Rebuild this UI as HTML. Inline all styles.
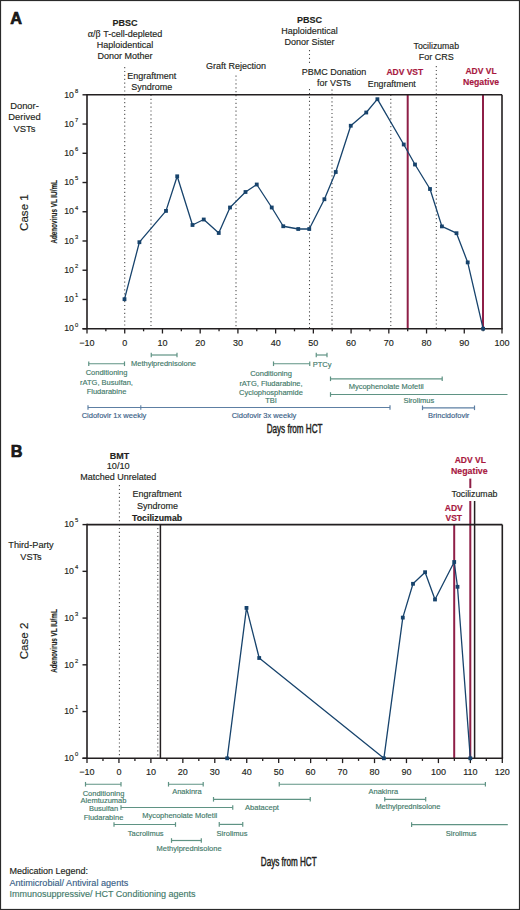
<!DOCTYPE html>
<html><head><meta charset="utf-8"><style>
html,body{margin:0;padding:0;background:#fff;}
body{width:520px;height:910px;overflow:hidden;}
svg{display:block;font-family:"Liberation Sans",sans-serif;}
</style></head><body>
<svg width="520" height="910" viewBox="0 0 520 910">
<rect x="0.5" y="0.5" width="519" height="909" fill="#fff" stroke="#2a2a2a" stroke-width="1.2"/>
<text x="10.2" y="23.8" font-size="16.3" text-anchor="start" font-weight="bold" fill="#231f20" stroke="#000" stroke-width="0.6">A</text>
<text x="125" y="26.3" font-size="9.0" text-anchor="middle" font-weight="bold" fill="#231f20" stroke="#231f20" stroke-width="0.15" >PBSC</text>
<text x="125" y="37" font-size="9.0" text-anchor="middle" font-weight="normal" fill="#231f20" stroke="#231f20" stroke-width="0.15" ><tspan font-family="Liberation Serif" font-size="10">α</tspan>/<tspan font-family="Liberation Serif" font-size="10">β</tspan> T-cell-depleted</text>
<text x="125" y="47.9" font-size="9.0" text-anchor="middle" font-weight="normal" fill="#231f20" stroke="#231f20" stroke-width="0.15" >Haploidentical</text>
<text x="125" y="58.6" font-size="9.0" text-anchor="middle" font-weight="normal" fill="#231f20" stroke="#231f20" stroke-width="0.15" >Donor Mother</text>
<text x="151.8" y="79.1" font-size="9.0" text-anchor="middle" font-weight="normal" fill="#231f20" stroke="#231f20" stroke-width="0.15" >Engraftment</text>
<text x="151.8" y="89.8" font-size="9.0" text-anchor="middle" font-weight="normal" fill="#231f20" stroke="#231f20" stroke-width="0.15" >Syndrome</text>
<text x="236" y="69" font-size="9.0" text-anchor="middle" font-weight="normal" fill="#231f20" stroke="#231f20" stroke-width="0.15" >Graft Rejection</text>
<text x="309.6" y="23" font-size="9.0" text-anchor="middle" font-weight="bold" fill="#231f20" stroke="#231f20" stroke-width="0.15" >PBSC</text>
<text x="309.6" y="34.2" font-size="9.0" text-anchor="middle" font-weight="normal" fill="#231f20" stroke="#231f20" stroke-width="0.15" >Haploidentical</text>
<text x="309.6" y="45" font-size="9.0" text-anchor="middle" font-weight="normal" fill="#231f20" stroke="#231f20" stroke-width="0.15" >Donor Sister</text>
<text x="334" y="74.5" font-size="9.0" text-anchor="middle" font-weight="normal" fill="#231f20" stroke="#231f20" stroke-width="0.15" >PBMC Donation</text>
<text x="334" y="85.5" font-size="9.0" text-anchor="middle" font-weight="normal" fill="#231f20" stroke="#231f20" stroke-width="0.15" >for VSTs</text>
<text x="436.3" y="49.3" font-size="8.7" text-anchor="middle" font-weight="normal" fill="#231f20" stroke="#231f20" stroke-width="0.15" >Tocilizumab</text>
<text x="436.3" y="60" font-size="9.0" text-anchor="middle" font-weight="normal" fill="#231f20" stroke="#231f20" stroke-width="0.15" >For CRS</text>
<text x="391.8" y="87.2" font-size="8.8" text-anchor="middle" font-weight="normal" fill="#231f20" stroke="#231f20" stroke-width="0.15" >Engraftment</text>
<text x="404.8" y="75" font-size="8.5" text-anchor="middle" font-weight="bold" fill="#a8183f" stroke="#a8183f" stroke-width="0.15" >ADV VST</text>
<text x="481" y="73.8" font-size="8.5" text-anchor="middle" font-weight="bold" fill="#a8183f" stroke="#a8183f" stroke-width="0.15" >ADV VL</text>
<text x="481" y="85" font-size="8.7" text-anchor="middle" font-weight="bold" fill="#a8183f" stroke="#a8183f" stroke-width="0.15" >Negative</text>
<text x="24.5" y="108.8" font-size="9.4" text-anchor="middle" font-weight="normal" fill="#231f20" stroke="#231f20" stroke-width="0.15" >Donor-</text>
<text x="24.5" y="120.3" font-size="9.4" text-anchor="middle" font-weight="normal" fill="#231f20" stroke="#231f20" stroke-width="0.15" >Derived</text>
<text x="24.5" y="131.8" font-size="9.4" text-anchor="middle" font-weight="normal" fill="#231f20" stroke="#231f20" stroke-width="0.15" >VSTs</text>
<text x="0" y="0" font-size="11.6" text-anchor="middle" font-weight="normal" fill="#231f20" stroke="#231f20" stroke-width="0.15" transform="translate(28,212.6) rotate(-90)">Case 1</text>
<text x="0" y="0" font-size="9" text-anchor="middle" font-weight="bold" fill="#231f20" stroke="#231f20" stroke-width="0.15" transform="translate(56.6,211.9) rotate(-90) scale(0.70,1)">Adenovirus VL IU/mL</text>
<line x1="124.72727272727272" y1="67" x2="124.72727272727272" y2="328.7" stroke="#4a4a4a" stroke-width="1.05" stroke-dasharray="1.2 2.7"/>
<line x1="151" y1="94.8" x2="151" y2="328.7" stroke="#4a4a4a" stroke-width="1.05" stroke-dasharray="1.2 2.7"/>
<line x1="236" y1="75.5" x2="236" y2="328.7" stroke="#4a4a4a" stroke-width="1.05" stroke-dasharray="1.2 2.7"/>
<line x1="309.5" y1="50" x2="309.5" y2="64" stroke="#4a4a4a" stroke-width="1.05" stroke-dasharray="1.2 2.7"/>
<line x1="309.5" y1="89" x2="309.5" y2="328.7" stroke="#4a4a4a" stroke-width="1.05" stroke-dasharray="1.2 2.7"/>
<line x1="332" y1="89.5" x2="332" y2="328.7" stroke="#4a4a4a" stroke-width="1.05" stroke-dasharray="1.2 2.7"/>
<line x1="390.8" y1="94.8" x2="390.8" y2="328.7" stroke="#4a4a4a" stroke-width="1.05" stroke-dasharray="1.2 2.7"/>
<line x1="436.3" y1="66" x2="436.3" y2="328.7" stroke="#4a4a4a" stroke-width="1.05" stroke-dasharray="1.2 2.7"/>
<line x1="407.7" y1="94.8" x2="407.7" y2="328.7" stroke="#8e1f47" stroke-width="2.0" />
<line x1="483" y1="94.8" x2="483" y2="328.7" stroke="#8e1f47" stroke-width="2.0" />
<line x1="87" y1="94.8" x2="502" y2="94.8" stroke="#231f20" stroke-width="1.6" />
<line x1="502" y1="94.8" x2="502" y2="328.7" stroke="#231f20" stroke-width="1.6" />
<line x1="87" y1="94.0" x2="87" y2="328.7" stroke="#231f20" stroke-width="1.6" />
<line x1="82.5" y1="328.7" x2="502.8" y2="328.7" stroke="#231f20" stroke-width="1.6" />
<line x1="82.5" y1="328.7" x2="87" y2="328.7" stroke="#231f20" stroke-width="1.4" />
<text x="73.9" y="331.4" font-size="8.7" text-anchor="end" font-weight="normal" fill="#231f20" stroke="#231f20" stroke-width="0.15" >10</text>
<text x="74.9" y="326.5" font-size="5.8" text-anchor="start" font-weight="normal" fill="#231f20" stroke="#231f20" stroke-width="0.15" >0</text>
<line x1="82.5" y1="299.4625" x2="87" y2="299.4625" stroke="#231f20" stroke-width="1.4" />
<text x="73.9" y="302.16249999999997" font-size="8.7" text-anchor="end" font-weight="normal" fill="#231f20" stroke="#231f20" stroke-width="0.15" >10</text>
<text x="74.9" y="297.2625" font-size="5.8" text-anchor="start" font-weight="normal" fill="#231f20" stroke="#231f20" stroke-width="0.15" >1</text>
<line x1="82.5" y1="270.225" x2="87" y2="270.225" stroke="#231f20" stroke-width="1.4" />
<text x="73.9" y="272.925" font-size="8.7" text-anchor="end" font-weight="normal" fill="#231f20" stroke="#231f20" stroke-width="0.15" >10</text>
<text x="74.9" y="268.02500000000003" font-size="5.8" text-anchor="start" font-weight="normal" fill="#231f20" stroke="#231f20" stroke-width="0.15" >2</text>
<line x1="82.5" y1="240.9875" x2="87" y2="240.9875" stroke="#231f20" stroke-width="1.4" />
<text x="73.9" y="243.6875" font-size="8.7" text-anchor="end" font-weight="normal" fill="#231f20" stroke="#231f20" stroke-width="0.15" >10</text>
<text x="74.9" y="238.78750000000002" font-size="5.8" text-anchor="start" font-weight="normal" fill="#231f20" stroke="#231f20" stroke-width="0.15" >3</text>
<line x1="82.5" y1="211.75" x2="87" y2="211.75" stroke="#231f20" stroke-width="1.4" />
<text x="73.9" y="214.45" font-size="8.7" text-anchor="end" font-weight="normal" fill="#231f20" stroke="#231f20" stroke-width="0.15" >10</text>
<text x="74.9" y="209.55" font-size="5.8" text-anchor="start" font-weight="normal" fill="#231f20" stroke="#231f20" stroke-width="0.15" >4</text>
<line x1="82.5" y1="182.5125" x2="87" y2="182.5125" stroke="#231f20" stroke-width="1.4" />
<text x="73.9" y="185.21249999999998" font-size="8.7" text-anchor="end" font-weight="normal" fill="#231f20" stroke="#231f20" stroke-width="0.15" >10</text>
<text x="74.9" y="180.3125" font-size="5.8" text-anchor="start" font-weight="normal" fill="#231f20" stroke="#231f20" stroke-width="0.15" >5</text>
<line x1="82.5" y1="153.275" x2="87" y2="153.275" stroke="#231f20" stroke-width="1.4" />
<text x="73.9" y="155.975" font-size="8.7" text-anchor="end" font-weight="normal" fill="#231f20" stroke="#231f20" stroke-width="0.15" >10</text>
<text x="74.9" y="151.07500000000002" font-size="5.8" text-anchor="start" font-weight="normal" fill="#231f20" stroke="#231f20" stroke-width="0.15" >6</text>
<line x1="82.5" y1="124.03750000000002" x2="87" y2="124.03750000000002" stroke="#231f20" stroke-width="1.4" />
<text x="73.9" y="126.73750000000003" font-size="8.7" text-anchor="end" font-weight="normal" fill="#231f20" stroke="#231f20" stroke-width="0.15" >10</text>
<text x="74.9" y="121.83750000000002" font-size="5.8" text-anchor="start" font-weight="normal" fill="#231f20" stroke="#231f20" stroke-width="0.15" >7</text>
<line x1="82.5" y1="94.80000000000001" x2="87" y2="94.80000000000001" stroke="#231f20" stroke-width="1.4" />
<text x="73.9" y="97.50000000000001" font-size="8.7" text-anchor="end" font-weight="normal" fill="#231f20" stroke="#231f20" stroke-width="0.15" >10</text>
<text x="74.9" y="92.60000000000001" font-size="5.8" text-anchor="start" font-weight="normal" fill="#231f20" stroke="#231f20" stroke-width="0.15" >8</text>
<line x1="87.0" y1="328.7" x2="87.0" y2="333.5" stroke="#231f20" stroke-width="1.3" />
<text x="87.0" y="345.5" font-size="9" text-anchor="middle" font-weight="normal" fill="#231f20" stroke="#231f20" stroke-width="0.15" >−10</text>
<line x1="105.86363636363636" y1="328.7" x2="105.86363636363636" y2="331.3" stroke="#231f20" stroke-width="1.3" />
<line x1="124.72727272727272" y1="328.7" x2="124.72727272727272" y2="333.5" stroke="#231f20" stroke-width="1.3" />
<text x="124.72727272727272" y="345.5" font-size="9" text-anchor="middle" font-weight="normal" fill="#231f20" stroke="#231f20" stroke-width="0.15" >0</text>
<line x1="143.5909090909091" y1="328.7" x2="143.5909090909091" y2="331.3" stroke="#231f20" stroke-width="1.3" />
<line x1="162.45454545454544" y1="328.7" x2="162.45454545454544" y2="333.5" stroke="#231f20" stroke-width="1.3" />
<text x="162.45454545454544" y="345.5" font-size="9" text-anchor="middle" font-weight="normal" fill="#231f20" stroke="#231f20" stroke-width="0.15" >10</text>
<line x1="181.3181818181818" y1="328.7" x2="181.3181818181818" y2="331.3" stroke="#231f20" stroke-width="1.3" />
<line x1="200.1818181818182" y1="328.7" x2="200.1818181818182" y2="333.5" stroke="#231f20" stroke-width="1.3" />
<text x="200.1818181818182" y="345.5" font-size="9" text-anchor="middle" font-weight="normal" fill="#231f20" stroke="#231f20" stroke-width="0.15" >20</text>
<line x1="219.04545454545456" y1="328.7" x2="219.04545454545456" y2="331.3" stroke="#231f20" stroke-width="1.3" />
<line x1="237.9090909090909" y1="328.7" x2="237.9090909090909" y2="333.5" stroke="#231f20" stroke-width="1.3" />
<text x="237.9090909090909" y="345.5" font-size="9" text-anchor="middle" font-weight="normal" fill="#231f20" stroke="#231f20" stroke-width="0.15" >30</text>
<line x1="256.77272727272725" y1="328.7" x2="256.77272727272725" y2="331.3" stroke="#231f20" stroke-width="1.3" />
<line x1="275.6363636363636" y1="328.7" x2="275.6363636363636" y2="333.5" stroke="#231f20" stroke-width="1.3" />
<text x="275.6363636363636" y="345.5" font-size="9" text-anchor="middle" font-weight="normal" fill="#231f20" stroke="#231f20" stroke-width="0.15" >40</text>
<line x1="294.5" y1="328.7" x2="294.5" y2="331.3" stroke="#231f20" stroke-width="1.3" />
<line x1="313.3636363636364" y1="328.7" x2="313.3636363636364" y2="333.5" stroke="#231f20" stroke-width="1.3" />
<text x="313.3636363636364" y="345.5" font-size="9" text-anchor="middle" font-weight="normal" fill="#231f20" stroke="#231f20" stroke-width="0.15" >50</text>
<line x1="332.22727272727275" y1="328.7" x2="332.22727272727275" y2="331.3" stroke="#231f20" stroke-width="1.3" />
<line x1="351.0909090909091" y1="328.7" x2="351.0909090909091" y2="333.5" stroke="#231f20" stroke-width="1.3" />
<text x="351.0909090909091" y="345.5" font-size="9" text-anchor="middle" font-weight="normal" fill="#231f20" stroke="#231f20" stroke-width="0.15" >60</text>
<line x1="369.9545454545455" y1="328.7" x2="369.9545454545455" y2="331.3" stroke="#231f20" stroke-width="1.3" />
<line x1="388.8181818181818" y1="328.7" x2="388.8181818181818" y2="333.5" stroke="#231f20" stroke-width="1.3" />
<text x="388.8181818181818" y="345.5" font-size="9" text-anchor="middle" font-weight="normal" fill="#231f20" stroke="#231f20" stroke-width="0.15" >70</text>
<line x1="407.6818181818182" y1="328.7" x2="407.6818181818182" y2="331.3" stroke="#231f20" stroke-width="1.3" />
<line x1="426.54545454545456" y1="328.7" x2="426.54545454545456" y2="333.5" stroke="#231f20" stroke-width="1.3" />
<text x="426.54545454545456" y="345.5" font-size="9" text-anchor="middle" font-weight="normal" fill="#231f20" stroke="#231f20" stroke-width="0.15" >80</text>
<line x1="445.40909090909093" y1="328.7" x2="445.40909090909093" y2="331.3" stroke="#231f20" stroke-width="1.3" />
<line x1="464.2727272727273" y1="328.7" x2="464.2727272727273" y2="333.5" stroke="#231f20" stroke-width="1.3" />
<text x="464.2727272727273" y="345.5" font-size="9" text-anchor="middle" font-weight="normal" fill="#231f20" stroke="#231f20" stroke-width="0.15" >90</text>
<line x1="483.1363636363637" y1="328.7" x2="483.1363636363637" y2="331.3" stroke="#231f20" stroke-width="1.3" />
<line x1="502.0" y1="328.7" x2="502.0" y2="333.5" stroke="#231f20" stroke-width="1.3" />
<text x="502.0" y="345.5" font-size="9" text-anchor="middle" font-weight="normal" fill="#231f20" stroke="#231f20" stroke-width="0.15" >100</text>
<polyline fill="none" stroke="#17436c" stroke-width="1.3" stroke-linejoin="round" points="124.5,299.2 139.4,242.2 166,210.9 177.2,176.3 192.5,225 203.75,219.5 218.75,233 230,207.5 245.5,192 256.75,184.5 271.75,207.5 283.25,226.25 298.25,229 309.25,229 324.4,199.25 335.75,172 350.75,125.75 366.25,112.5 377.4,99.2 403.75,144.5 415,164.5 430,189 441.9,226.4 456.5,233.2 467.7,262.4 483.1,328.7"/>
<rect x="122.6" y="297.3" width="3.8" height="3.8" fill="#17436c"/>
<rect x="137.5" y="240.29999999999998" width="3.8" height="3.8" fill="#17436c"/>
<rect x="164.1" y="209.0" width="3.8" height="3.8" fill="#17436c"/>
<rect x="175.29999999999998" y="174.4" width="3.8" height="3.8" fill="#17436c"/>
<rect x="190.6" y="223.1" width="3.8" height="3.8" fill="#17436c"/>
<rect x="201.85" y="217.6" width="3.8" height="3.8" fill="#17436c"/>
<rect x="216.85" y="231.1" width="3.8" height="3.8" fill="#17436c"/>
<rect x="228.1" y="205.6" width="3.8" height="3.8" fill="#17436c"/>
<rect x="243.6" y="190.1" width="3.8" height="3.8" fill="#17436c"/>
<rect x="254.85" y="182.6" width="3.8" height="3.8" fill="#17436c"/>
<rect x="269.85" y="205.6" width="3.8" height="3.8" fill="#17436c"/>
<rect x="281.35" y="224.35" width="3.8" height="3.8" fill="#17436c"/>
<rect x="296.35" y="227.1" width="3.8" height="3.8" fill="#17436c"/>
<rect x="307.35" y="227.1" width="3.8" height="3.8" fill="#17436c"/>
<rect x="322.5" y="197.35" width="3.8" height="3.8" fill="#17436c"/>
<rect x="333.85" y="170.1" width="3.8" height="3.8" fill="#17436c"/>
<rect x="348.85" y="123.85" width="3.8" height="3.8" fill="#17436c"/>
<rect x="364.35" y="110.6" width="3.8" height="3.8" fill="#17436c"/>
<rect x="375.5" y="97.3" width="3.8" height="3.8" fill="#17436c"/>
<rect x="401.85" y="142.6" width="3.8" height="3.8" fill="#17436c"/>
<rect x="413.1" y="162.6" width="3.8" height="3.8" fill="#17436c"/>
<rect x="428.1" y="187.1" width="3.8" height="3.8" fill="#17436c"/>
<rect x="440.0" y="224.5" width="3.8" height="3.8" fill="#17436c"/>
<rect x="454.6" y="231.29999999999998" width="3.8" height="3.8" fill="#17436c"/>
<rect x="465.8" y="260.5" width="3.8" height="3.8" fill="#17436c"/>
<rect x="481.20000000000005" y="326.8" width="3.8" height="3.8" fill="#17436c"/>
<line x1="88.75" y1="363.75" x2="124.5" y2="363.75" stroke="#5f9384" stroke-width="1.2" />
<line x1="88.75" y1="361.45" x2="88.75" y2="366.05" stroke="#5f9384" stroke-width="1.2" />
<line x1="124.5" y1="361.45" x2="124.5" y2="366.05" stroke="#5f9384" stroke-width="1.2" />
<text x="106.5" y="375.0" font-size="7.5" text-anchor="middle" font-weight="normal" fill="#437a6a" stroke="#437a6a" stroke-width="0.15" >Conditioning</text>
<text x="106.5" y="385.0" font-size="7.5" text-anchor="middle" font-weight="normal" fill="#437a6a" stroke="#437a6a" stroke-width="0.15" >rATG, Busulfan,</text>
<text x="106.5" y="394.0" font-size="7.5" text-anchor="middle" font-weight="normal" fill="#437a6a" stroke="#437a6a" stroke-width="0.15" >Fludarabine</text>
<line x1="151.25" y1="355" x2="177" y2="355" stroke="#5f9384" stroke-width="1.2" />
<line x1="151.25" y1="352.7" x2="151.25" y2="357.3" stroke="#5f9384" stroke-width="1.2" />
<line x1="177" y1="352.7" x2="177" y2="357.3" stroke="#5f9384" stroke-width="1.2" />
<text x="163.5" y="365.5" font-size="7.5" text-anchor="middle" font-weight="normal" fill="#437a6a" stroke="#437a6a" stroke-width="0.15" >Methylprednisolone</text>
<line x1="273.5" y1="363.75" x2="309.75" y2="363.75" stroke="#5f9384" stroke-width="1.2" />
<line x1="273.5" y1="361.45" x2="273.5" y2="366.05" stroke="#5f9384" stroke-width="1.2" />
<line x1="309.75" y1="361.45" x2="309.75" y2="366.05" stroke="#5f9384" stroke-width="1.2" />
<text x="271" y="375.5" font-size="7.5" text-anchor="middle" font-weight="normal" fill="#437a6a" stroke="#437a6a" stroke-width="0.15" >Conditioning</text>
<text x="271" y="385.5" font-size="7.5" text-anchor="middle" font-weight="normal" fill="#437a6a" stroke="#437a6a" stroke-width="0.15" >rATG, Fludarabine,</text>
<text x="271" y="395.0" font-size="7.5" text-anchor="middle" font-weight="normal" fill="#437a6a" stroke="#437a6a" stroke-width="0.15" >Cyclophosphamide</text>
<text x="271" y="403.2" font-size="7.5" text-anchor="middle" font-weight="normal" fill="#437a6a" stroke="#437a6a" stroke-width="0.15" >TBI</text>
<line x1="316.25" y1="355" x2="327" y2="355" stroke="#5f9384" stroke-width="1.2" />
<line x1="316.25" y1="352.7" x2="316.25" y2="357.3" stroke="#5f9384" stroke-width="1.2" />
<line x1="327" y1="352.7" x2="327" y2="357.3" stroke="#5f9384" stroke-width="1.2" />
<text x="322" y="366.8" font-size="7.5" text-anchor="middle" font-weight="normal" fill="#437a6a" stroke="#437a6a" stroke-width="0.15" >PTCy</text>
<line x1="330.5" y1="378.8" x2="442.2" y2="378.8" stroke="#5f9384" stroke-width="1.2" />
<line x1="330.5" y1="376.5" x2="330.5" y2="381.1" stroke="#5f9384" stroke-width="1.2" />
<line x1="442.2" y1="376.5" x2="442.2" y2="381.1" stroke="#5f9384" stroke-width="1.2" />
<text x="386.2" y="388.5" font-size="7.5" text-anchor="middle" font-weight="normal" fill="#437a6a" stroke="#437a6a" stroke-width="0.15" >Mycophenolate Mofetil</text>
<line x1="330.5" y1="394.5" x2="507.5" y2="394.5" stroke="#5f9384" stroke-width="1.2" />
<line x1="330.5" y1="392.2" x2="330.5" y2="396.8" stroke="#5f9384" stroke-width="1.2" />
<text x="418.8" y="402.8" font-size="7.5" text-anchor="middle" font-weight="normal" fill="#437a6a" stroke="#437a6a" stroke-width="0.15" >Sirolimus</text>
<line x1="88" y1="407.5" x2="390" y2="407.5" stroke="#5d7fa3" stroke-width="1.2" />
<line x1="88" y1="405.2" x2="88" y2="409.8" stroke="#5d7fa3" stroke-width="1.2" />
<line x1="390" y1="405.2" x2="390" y2="409.8" stroke="#5d7fa3" stroke-width="1.2" />
<line x1="140.8" y1="405.2" x2="140.8" y2="409.8" stroke="#5d7fa3" stroke-width="1.1" />
<text x="114" y="417.5" font-size="7.5" text-anchor="middle" font-weight="normal" fill="#3a5f88" stroke="#3a5f88" stroke-width="0.15" >Cidofovir 1x weekly</text>
<text x="264" y="417.5" font-size="7.5" text-anchor="middle" font-weight="normal" fill="#3a5f88" stroke="#3a5f88" stroke-width="0.15" >Cidofovir 3x weekly</text>
<line x1="422.5" y1="407.8" x2="474.5" y2="407.8" stroke="#5d7fa3" stroke-width="1.2" />
<line x1="422.5" y1="405.5" x2="422.5" y2="410.1" stroke="#5d7fa3" stroke-width="1.2" />
<line x1="474.5" y1="405.5" x2="474.5" y2="410.1" stroke="#5d7fa3" stroke-width="1.2" />
<text x="448.7" y="417.8" font-size="7.5" text-anchor="middle" font-weight="normal" fill="#3a5f88" stroke="#3a5f88" stroke-width="0.15" >Brincidofovir</text>
<text x="294.6" y="433.1" font-size="12.0" text-anchor="middle" font-weight="normal" fill="#231f20" stroke="#231f20" stroke-width="0.45" transform="translate(294.6,0) scale(0.677,1) translate(-294.6,0)">Days from HCT</text>
<text x="10.7" y="457" font-size="16.3" text-anchor="start" font-weight="bold" fill="#231f20" stroke="#000" stroke-width="0.6">B</text>
<text x="119.6" y="458.8" font-size="9.0" text-anchor="middle" font-weight="bold" fill="#231f20" stroke="#231f20" stroke-width="0.15" >BMT</text>
<text x="118.2" y="469.4" font-size="9.2" text-anchor="middle" font-weight="normal" fill="#231f20" stroke="#231f20" stroke-width="0.15" >10/10</text>
<text x="118.3" y="480" font-size="9.0" text-anchor="middle" font-weight="normal" fill="#231f20" stroke="#231f20" stroke-width="0.15" >Matched Unrelated</text>
<text x="157.1" y="497" font-size="9.0" text-anchor="middle" font-weight="normal" fill="#231f20" stroke="#231f20" stroke-width="0.15" >Engraftment</text>
<text x="157.5" y="508.8" font-size="9.0" text-anchor="middle" font-weight="normal" fill="#231f20" stroke="#231f20" stroke-width="0.15" >Syndrome</text>
<text x="157.1" y="520.5" font-size="8.8" text-anchor="middle" font-weight="bold" fill="#231f20" stroke="#231f20" stroke-width="0.15" >Tocilizumab</text>
<text x="470.3" y="463.3" font-size="8.5" text-anchor="middle" font-weight="bold" fill="#a8183f" stroke="#a8183f" stroke-width="0.15" >ADV VL</text>
<text x="469.3" y="474.2" font-size="8.8" text-anchor="middle" font-weight="bold" fill="#a8183f" stroke="#a8183f" stroke-width="0.15" >Negative</text>
<text x="474.5" y="497.1" font-size="8.8" text-anchor="middle" font-weight="normal" fill="#231f20" stroke="#231f20" stroke-width="0.15" >Tocilizumab</text>
<text x="453.8" y="511" font-size="8.5" text-anchor="middle" font-weight="bold" fill="#a8183f" stroke="#a8183f" stroke-width="0.15" >ADV</text>
<text x="453.8" y="521.3" font-size="8.5" text-anchor="middle" font-weight="bold" fill="#a8183f" stroke="#a8183f" stroke-width="0.15" >VST</text>
<text x="31" y="548.2" font-size="9.2" text-anchor="middle" font-weight="normal" fill="#231f20" stroke="#231f20" stroke-width="0.15" >Third-Party</text>
<text x="31" y="560.1" font-size="9.2" text-anchor="middle" font-weight="normal" fill="#231f20" stroke="#231f20" stroke-width="0.15" >VSTs</text>
<text x="0" y="0" font-size="11.6" text-anchor="middle" font-weight="normal" fill="#231f20" stroke="#231f20" stroke-width="0.15" transform="translate(28,641) rotate(-90)">Case 2</text>
<text x="0" y="0" font-size="9" text-anchor="middle" font-weight="bold" fill="#231f20" stroke="#231f20" stroke-width="0.15" transform="translate(56.6,641) rotate(-90) scale(0.70,1)">Adenovirus VL IU/mL</text>
<line x1="119.4" y1="485" x2="119.4" y2="758.3" stroke="#4a4a4a" stroke-width="1.05" stroke-dasharray="1.2 2.7"/>
<line x1="157.8" y1="528" x2="157.8" y2="758.3" stroke="#4a4a4a" stroke-width="1.05" stroke-dasharray="1.2 2.7"/>
<line x1="160.4" y1="524.6" x2="160.4" y2="758.3" stroke="#231f20" stroke-width="1.5" />
<line x1="454.2" y1="524.6" x2="454.2" y2="758.3" stroke="#8e1f47" stroke-width="2.0" />
<line x1="470.3" y1="501" x2="470.3" y2="758.3" stroke="#8e1f47" stroke-width="2.0" />
<line x1="470.3" y1="478.6" x2="470.3" y2="488.1" stroke="#8e1f47" stroke-width="2.0" />
<line x1="474.6" y1="501" x2="474.6" y2="758.3" stroke="#231f20" stroke-width="1.5" />
<line x1="87" y1="524.6" x2="502.3" y2="524.6" stroke="#231f20" stroke-width="1.6" />
<line x1="502.3" y1="524.6" x2="502.3" y2="758.3" stroke="#231f20" stroke-width="1.6" />
<line x1="87" y1="523.8000000000001" x2="87" y2="758.3" stroke="#231f20" stroke-width="1.6" />
<line x1="82.5" y1="758.3" x2="503.1" y2="758.3" stroke="#231f20" stroke-width="1.6" />
<line x1="82.5" y1="758.3" x2="87" y2="758.3" stroke="#231f20" stroke-width="1.4" />
<text x="73.9" y="761.0" font-size="8.7" text-anchor="end" font-weight="normal" fill="#231f20" stroke="#231f20" stroke-width="0.15" >10</text>
<text x="74.9" y="756.0999999999999" font-size="5.8" text-anchor="start" font-weight="normal" fill="#231f20" stroke="#231f20" stroke-width="0.15" >0</text>
<line x1="82.5" y1="711.56" x2="87" y2="711.56" stroke="#231f20" stroke-width="1.4" />
<text x="73.9" y="714.26" font-size="8.7" text-anchor="end" font-weight="normal" fill="#231f20" stroke="#231f20" stroke-width="0.15" >10</text>
<text x="74.9" y="709.3599999999999" font-size="5.8" text-anchor="start" font-weight="normal" fill="#231f20" stroke="#231f20" stroke-width="0.15" >1</text>
<line x1="82.5" y1="664.8199999999999" x2="87" y2="664.8199999999999" stroke="#231f20" stroke-width="1.4" />
<text x="73.9" y="667.52" font-size="8.7" text-anchor="end" font-weight="normal" fill="#231f20" stroke="#231f20" stroke-width="0.15" >10</text>
<text x="74.9" y="662.6199999999999" font-size="5.8" text-anchor="start" font-weight="normal" fill="#231f20" stroke="#231f20" stroke-width="0.15" >2</text>
<line x1="82.5" y1="618.0799999999999" x2="87" y2="618.0799999999999" stroke="#231f20" stroke-width="1.4" />
<text x="73.9" y="620.78" font-size="8.7" text-anchor="end" font-weight="normal" fill="#231f20" stroke="#231f20" stroke-width="0.15" >10</text>
<text x="74.9" y="615.8799999999999" font-size="5.8" text-anchor="start" font-weight="normal" fill="#231f20" stroke="#231f20" stroke-width="0.15" >3</text>
<line x1="82.5" y1="571.34" x2="87" y2="571.34" stroke="#231f20" stroke-width="1.4" />
<text x="73.9" y="574.0400000000001" font-size="8.7" text-anchor="end" font-weight="normal" fill="#231f20" stroke="#231f20" stroke-width="0.15" >10</text>
<text x="74.9" y="569.14" font-size="5.8" text-anchor="start" font-weight="normal" fill="#231f20" stroke="#231f20" stroke-width="0.15" >4</text>
<line x1="82.5" y1="524.6" x2="87" y2="524.6" stroke="#231f20" stroke-width="1.4" />
<text x="73.9" y="527.3000000000001" font-size="8.7" text-anchor="end" font-weight="normal" fill="#231f20" stroke="#231f20" stroke-width="0.15" >10</text>
<text x="74.9" y="522.4" font-size="5.8" text-anchor="start" font-weight="normal" fill="#231f20" stroke="#231f20" stroke-width="0.15" >5</text>
<line x1="87.0" y1="758.3" x2="87.0" y2="763.0999999999999" stroke="#231f20" stroke-width="1.3" />
<text x="87.0" y="774.6" font-size="9" text-anchor="middle" font-weight="normal" fill="#231f20" stroke="#231f20" stroke-width="0.15" >−10</text>
<line x1="102.97307692307692" y1="758.3" x2="102.97307692307692" y2="760.9" stroke="#231f20" stroke-width="1.3" />
<line x1="118.94615384615385" y1="758.3" x2="118.94615384615385" y2="763.0999999999999" stroke="#231f20" stroke-width="1.3" />
<text x="118.94615384615385" y="774.6" font-size="9" text-anchor="middle" font-weight="normal" fill="#231f20" stroke="#231f20" stroke-width="0.15" >0</text>
<line x1="134.91923076923078" y1="758.3" x2="134.91923076923078" y2="760.9" stroke="#231f20" stroke-width="1.3" />
<line x1="150.8923076923077" y1="758.3" x2="150.8923076923077" y2="763.0999999999999" stroke="#231f20" stroke-width="1.3" />
<text x="150.8923076923077" y="774.6" font-size="9" text-anchor="middle" font-weight="normal" fill="#231f20" stroke="#231f20" stroke-width="0.15" >10</text>
<line x1="166.8653846153846" y1="758.3" x2="166.8653846153846" y2="760.9" stroke="#231f20" stroke-width="1.3" />
<line x1="182.83846153846156" y1="758.3" x2="182.83846153846156" y2="763.0999999999999" stroke="#231f20" stroke-width="1.3" />
<text x="182.83846153846156" y="774.6" font-size="9" text-anchor="middle" font-weight="normal" fill="#231f20" stroke="#231f20" stroke-width="0.15" >20</text>
<line x1="198.81153846153848" y1="758.3" x2="198.81153846153848" y2="760.9" stroke="#231f20" stroke-width="1.3" />
<line x1="214.7846153846154" y1="758.3" x2="214.7846153846154" y2="763.0999999999999" stroke="#231f20" stroke-width="1.3" />
<text x="214.7846153846154" y="774.6" font-size="9" text-anchor="middle" font-weight="normal" fill="#231f20" stroke="#231f20" stroke-width="0.15" >30</text>
<line x1="230.7576923076923" y1="758.3" x2="230.7576923076923" y2="760.9" stroke="#231f20" stroke-width="1.3" />
<line x1="246.73076923076923" y1="758.3" x2="246.73076923076923" y2="763.0999999999999" stroke="#231f20" stroke-width="1.3" />
<text x="246.73076923076923" y="774.6" font-size="9" text-anchor="middle" font-weight="normal" fill="#231f20" stroke="#231f20" stroke-width="0.15" >40</text>
<line x1="262.70384615384614" y1="758.3" x2="262.70384615384614" y2="760.9" stroke="#231f20" stroke-width="1.3" />
<line x1="278.6769230769231" y1="758.3" x2="278.6769230769231" y2="763.0999999999999" stroke="#231f20" stroke-width="1.3" />
<text x="278.6769230769231" y="774.6" font-size="9" text-anchor="middle" font-weight="normal" fill="#231f20" stroke="#231f20" stroke-width="0.15" >50</text>
<line x1="294.65" y1="758.3" x2="294.65" y2="760.9" stroke="#231f20" stroke-width="1.3" />
<line x1="310.62307692307695" y1="758.3" x2="310.62307692307695" y2="763.0999999999999" stroke="#231f20" stroke-width="1.3" />
<text x="310.62307692307695" y="774.6" font-size="9" text-anchor="middle" font-weight="normal" fill="#231f20" stroke="#231f20" stroke-width="0.15" >60</text>
<line x1="326.5961538461538" y1="758.3" x2="326.5961538461538" y2="760.9" stroke="#231f20" stroke-width="1.3" />
<line x1="342.5692307692308" y1="758.3" x2="342.5692307692308" y2="763.0999999999999" stroke="#231f20" stroke-width="1.3" />
<text x="342.5692307692308" y="774.6" font-size="9" text-anchor="middle" font-weight="normal" fill="#231f20" stroke="#231f20" stroke-width="0.15" >70</text>
<line x1="358.5423076923077" y1="758.3" x2="358.5423076923077" y2="760.9" stroke="#231f20" stroke-width="1.3" />
<line x1="374.5153846153846" y1="758.3" x2="374.5153846153846" y2="763.0999999999999" stroke="#231f20" stroke-width="1.3" />
<text x="374.5153846153846" y="774.6" font-size="9" text-anchor="middle" font-weight="normal" fill="#231f20" stroke="#231f20" stroke-width="0.15" >80</text>
<line x1="390.48846153846154" y1="758.3" x2="390.48846153846154" y2="760.9" stroke="#231f20" stroke-width="1.3" />
<line x1="406.46153846153845" y1="758.3" x2="406.46153846153845" y2="763.0999999999999" stroke="#231f20" stroke-width="1.3" />
<text x="406.46153846153845" y="774.6" font-size="9" text-anchor="middle" font-weight="normal" fill="#231f20" stroke="#231f20" stroke-width="0.15" >90</text>
<line x1="422.43461538461537" y1="758.3" x2="422.43461538461537" y2="760.9" stroke="#231f20" stroke-width="1.3" />
<line x1="438.4076923076923" y1="758.3" x2="438.4076923076923" y2="763.0999999999999" stroke="#231f20" stroke-width="1.3" />
<text x="438.4076923076923" y="774.6" font-size="9" text-anchor="middle" font-weight="normal" fill="#231f20" stroke="#231f20" stroke-width="0.15" >100</text>
<line x1="454.38076923076926" y1="758.3" x2="454.38076923076926" y2="760.9" stroke="#231f20" stroke-width="1.3" />
<line x1="470.3538461538462" y1="758.3" x2="470.3538461538462" y2="763.0999999999999" stroke="#231f20" stroke-width="1.3" />
<text x="470.3538461538462" y="774.6" font-size="9" text-anchor="middle" font-weight="normal" fill="#231f20" stroke="#231f20" stroke-width="0.15" >110</text>
<line x1="486.3269230769231" y1="758.3" x2="486.3269230769231" y2="760.9" stroke="#231f20" stroke-width="1.3" />
<line x1="502.3" y1="758.3" x2="502.3" y2="763.0999999999999" stroke="#231f20" stroke-width="1.3" />
<text x="502.3" y="774.6" font-size="9" text-anchor="middle" font-weight="normal" fill="#231f20" stroke="#231f20" stroke-width="0.15" >120</text>
<polyline fill="none" stroke="#17436c" stroke-width="1.3" stroke-linejoin="round" points="227.2,758.3 246.5,607.9 259.2,658 383.9,758.3 402.8,617.6 413,583.8 425.1,572.2 435,599.5 454.2,562 457.5,586.8 470.3,758.3"/>
<rect x="225.29999999999998" y="756.4" width="3.8" height="3.8" fill="#17436c"/>
<rect x="244.6" y="606.0" width="3.8" height="3.8" fill="#17436c"/>
<rect x="257.3" y="656.1" width="3.8" height="3.8" fill="#17436c"/>
<rect x="382.0" y="756.4" width="3.8" height="3.8" fill="#17436c"/>
<rect x="400.90000000000003" y="615.7" width="3.8" height="3.8" fill="#17436c"/>
<rect x="411.1" y="581.9" width="3.8" height="3.8" fill="#17436c"/>
<rect x="423.20000000000005" y="570.3000000000001" width="3.8" height="3.8" fill="#17436c"/>
<rect x="433.1" y="597.6" width="3.8" height="3.8" fill="#17436c"/>
<rect x="452.3" y="560.1" width="3.8" height="3.8" fill="#17436c"/>
<rect x="455.6" y="584.9" width="3.8" height="3.8" fill="#17436c"/>
<rect x="468.40000000000003" y="756.4" width="3.8" height="3.8" fill="#17436c"/>
<line x1="85.5" y1="784.25" x2="121" y2="784.25" stroke="#5f9384" stroke-width="1.2" />
<line x1="85.5" y1="781.95" x2="85.5" y2="786.55" stroke="#5f9384" stroke-width="1.2" />
<line x1="121" y1="781.95" x2="121" y2="786.55" stroke="#5f9384" stroke-width="1.2" />
<text x="103.5" y="795.6" font-size="7.5" text-anchor="middle" font-weight="normal" fill="#437a6a" stroke="#437a6a" stroke-width="0.15" >Conditioning</text>
<text x="103.5" y="803.3" font-size="7.5" text-anchor="middle" font-weight="normal" fill="#437a6a" stroke="#437a6a" stroke-width="0.15" >Alemtuzumab</text>
<text x="103.5" y="810.9" font-size="7.5" text-anchor="middle" font-weight="normal" fill="#437a6a" stroke="#437a6a" stroke-width="0.15" >Busulfan</text>
<text x="103.5" y="819.6" font-size="7.5" text-anchor="middle" font-weight="normal" fill="#437a6a" stroke="#437a6a" stroke-width="0.15" >Fludarabine</text>
<line x1="168.5" y1="784.25" x2="203.2" y2="784.25" stroke="#5f9384" stroke-width="1.2" />
<line x1="168.5" y1="781.95" x2="168.5" y2="786.55" stroke="#5f9384" stroke-width="1.2" />
<line x1="203.2" y1="781.95" x2="203.2" y2="786.55" stroke="#5f9384" stroke-width="1.2" />
<text x="187" y="793.6" font-size="7.5" text-anchor="middle" font-weight="normal" fill="#437a6a" stroke="#437a6a" stroke-width="0.15" >Anakinra</text>
<line x1="279.25" y1="784.25" x2="485.4" y2="784.25" stroke="#5f9384" stroke-width="1.2" />
<line x1="279.25" y1="781.95" x2="279.25" y2="786.55" stroke="#5f9384" stroke-width="1.2" />
<line x1="485.4" y1="781.95" x2="485.4" y2="786.55" stroke="#5f9384" stroke-width="1.2" />
<text x="383.3" y="794.3" font-size="7.5" text-anchor="middle" font-weight="normal" fill="#437a6a" stroke="#437a6a" stroke-width="0.15" >Anakinra</text>
<line x1="213.5" y1="799.3" x2="310.25" y2="799.3" stroke="#5f9384" stroke-width="1.2" />
<line x1="213.5" y1="797.0" x2="213.5" y2="801.5999999999999" stroke="#5f9384" stroke-width="1.2" />
<line x1="310.25" y1="797.0" x2="310.25" y2="801.5999999999999" stroke="#5f9384" stroke-width="1.2" />
<text x="262" y="809.9" font-size="7.5" text-anchor="middle" font-weight="normal" fill="#437a6a" stroke="#437a6a" stroke-width="0.15" >Abatacept</text>
<line x1="121" y1="807.5" x2="232.75" y2="807.5" stroke="#5f9384" stroke-width="1.2" />
<line x1="121" y1="805.2" x2="121" y2="809.8" stroke="#5f9384" stroke-width="1.2" />
<line x1="232.75" y1="805.2" x2="232.75" y2="809.8" stroke="#5f9384" stroke-width="1.2" />
<text x="179.7" y="817.6" font-size="7.5" text-anchor="middle" font-weight="normal" fill="#437a6a" stroke="#437a6a" stroke-width="0.15" >Mycophenolate Mofetil</text>
<line x1="384.75" y1="799.3" x2="425.7" y2="799.3" stroke="#5f9384" stroke-width="1.2" />
<line x1="384.75" y1="797.0" x2="384.75" y2="801.5999999999999" stroke="#5f9384" stroke-width="1.2" />
<line x1="425.7" y1="797.0" x2="425.7" y2="801.5999999999999" stroke="#5f9384" stroke-width="1.2" />
<text x="407.9" y="809.4" font-size="7.5" text-anchor="middle" font-weight="normal" fill="#437a6a" stroke="#437a6a" stroke-width="0.15" >Methylprednisolone</text>
<line x1="114" y1="824.5" x2="175.5" y2="824.5" stroke="#5f9384" stroke-width="1.2" />
<line x1="114" y1="822.2" x2="114" y2="826.8" stroke="#5f9384" stroke-width="1.2" />
<line x1="175.5" y1="822.2" x2="175.5" y2="826.8" stroke="#5f9384" stroke-width="1.2" />
<text x="145.7" y="835.6" font-size="7.5" text-anchor="middle" font-weight="normal" fill="#437a6a" stroke="#437a6a" stroke-width="0.15" >Tacrolimus</text>
<line x1="219.25" y1="824.4" x2="242.75" y2="824.4" stroke="#5f9384" stroke-width="1.2" />
<line x1="219.25" y1="822.1" x2="219.25" y2="826.6999999999999" stroke="#5f9384" stroke-width="1.2" />
<line x1="242.75" y1="822.1" x2="242.75" y2="826.6999999999999" stroke="#5f9384" stroke-width="1.2" />
<text x="232" y="835.6" font-size="7.5" text-anchor="middle" font-weight="normal" fill="#437a6a" stroke="#437a6a" stroke-width="0.15" >Sirolimus</text>
<line x1="411.6" y1="824.6" x2="507.8" y2="824.6" stroke="#5f9384" stroke-width="1.2" />
<line x1="411.6" y1="822.3000000000001" x2="411.6" y2="826.9" stroke="#5f9384" stroke-width="1.2" />
<text x="461.2" y="836.1" font-size="7.5" text-anchor="middle" font-weight="normal" fill="#437a6a" stroke="#437a6a" stroke-width="0.15" >Sirolimus</text>
<line x1="171.5" y1="840.5" x2="201.3" y2="840.5" stroke="#5f9384" stroke-width="1.2" />
<line x1="171.5" y1="838.2" x2="171.5" y2="842.8" stroke="#5f9384" stroke-width="1.2" />
<line x1="201.3" y1="838.2" x2="201.3" y2="842.8" stroke="#5f9384" stroke-width="1.2" />
<text x="189.1" y="851.1" font-size="7.5" text-anchor="middle" font-weight="normal" fill="#437a6a" stroke="#437a6a" stroke-width="0.15" >Methylprednisolone</text>
<text x="288.75" y="866.2" font-size="12.0" text-anchor="middle" font-weight="normal" fill="#231f20" stroke="#231f20" stroke-width="0.45" transform="translate(288.75,0) scale(0.677,1) translate(-288.75,0)">Days from HCT</text>
<text x="9.5" y="874" font-size="9.0" text-anchor="start" font-weight="normal" fill="#231f20" stroke="#231f20" stroke-width="0.15" >Medication Legend:</text>
<text x="9.5" y="885.8" font-size="9.1" text-anchor="start" font-weight="normal" fill="#3a5f88" stroke="#3a5f88" stroke-width="0.15" >Antimicrobial/ Antiviral agents</text>
<text x="9.5" y="897" font-size="9.0" text-anchor="start" font-weight="normal" fill="#437a6a" stroke="#437a6a" stroke-width="0.15" >Immunosuppressive/ HCT Conditioning agents</text>
</svg>
</body></html>
